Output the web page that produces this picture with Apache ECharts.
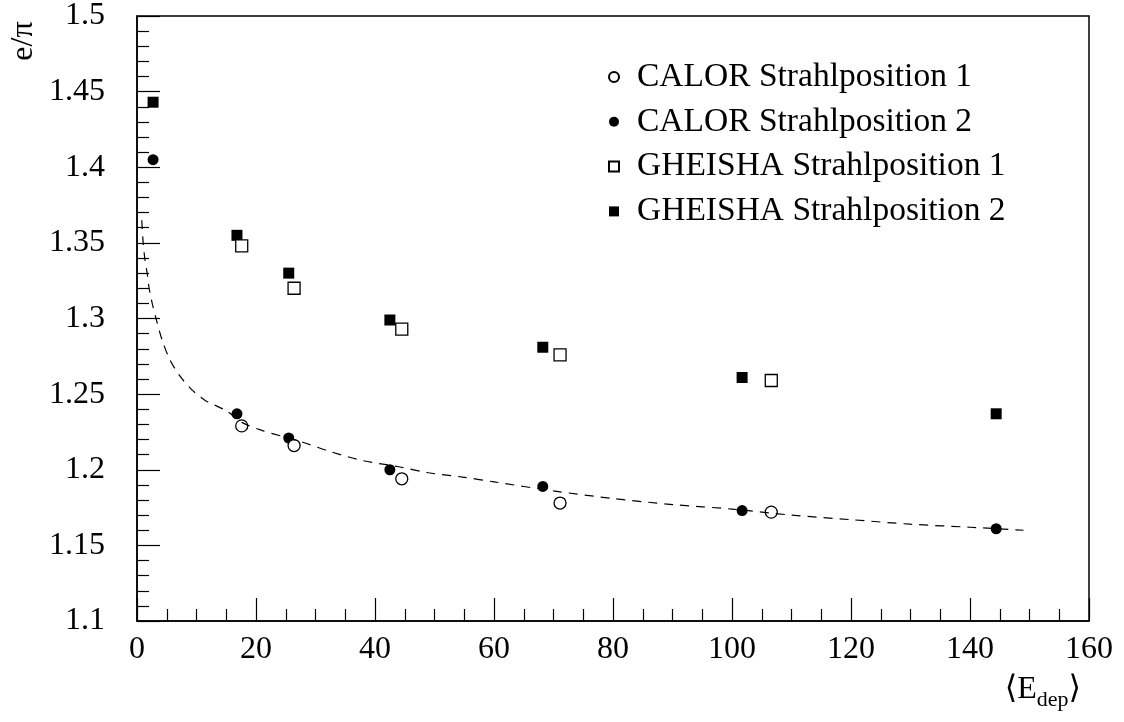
<!DOCTYPE html>
<html>
<head>
<meta charset="utf-8">
<script src="https://cdn.jsdelivr.net/npm/echarts@6/dist/echarts.min.js"></script>
<style>html,body{margin:0;padding:0;background:#fff}#c{width:1124px;height:722px}</style>
</head>
<body>
<div id="c"></div>
<script>
// ---- data ----
const calor1X = [17.6, 26.4, 44.5, 71.1, 106.6];
const calor1Y = [1.229, 1.216, 1.194, 1.178, 1.172];
const calor2X = [2.7, 16.8, 25.5, 42.5, 68.2, 101.7, 144.4];
const calor2Y = [1.405, 1.237, 1.221, 1.200, 1.189, 1.173, 1.161];
const gheisha1X = [17.6, 26.4, 44.5, 71.1, 106.6];
const gheisha1Y = [1.348, 1.320, 1.293, 1.276, 1.259];
const gheisha2X = [2.7, 16.8, 25.5, 42.5, 68.2, 101.7, 144.4];
const gheisha2Y = [1.443, 1.355, 1.330, 1.299, 1.281, 1.261, 1.237];
// dashed fit curve
const fitX = [0.8, 1.0, 1.3, 1.7, 2.0, 2.5, 3.2, 4.2, 5.5, 7.2, 9.2, 11.4, 15, 17.8, 21, 24.5, 28, 32.5, 38, 44, 49, 55, 60, 70, 80, 90, 100, 110, 120, 130, 140, 149];
const fitY = [1.365, 1.352, 1.340, 1.330, 1.321, 1.311, 1.300, 1.286, 1.273, 1.262, 1.253, 1.246, 1.239, 1.231, 1.226, 1.222, 1.218, 1.212, 1.206, 1.202, 1.198, 1.195, 1.192, 1.186, 1.181, 1.177, 1.174, 1.170, 1.167, 1.164, 1.162, 1.160];
const seriesNames = ['CALOR Strahlposition 1', 'CALOR Strahlposition 2', 'GHEISHA Strahlposition 1', 'GHEISHA Strahlposition 2'];
const xTicks = {min: 0, max: 160, interval: 20};
const yTicks = {min: 1.1, max: 1.5, interval: 0.05};

const zip = (xs, ys) => xs.map((x, i) => [x, ys[i]]);
const FONT = '"Liberation Serif", "DejaVu Serif", serif';
const FS = 32;

const chart = echarts.init(document.getElementById('c'), null, {renderer: 'canvas'});
const openStyle = {color: '#fff', borderColor: '#000', borderWidth: 1.3, opacity: 1};
const fillStyle = {color: '#000', borderColor: '#000', borderWidth: 0, opacity: 1};

chart.setOption({
  animation: false,
  backgroundColor: '#fff',
  grid: {left: 137, right: 35, top: 15, bottom: 101, show: true, borderColor: '#000', borderWidth: 1.5, backgroundColor: 'transparent'},
  xAxis: {
    type: 'value', min: xTicks.min, max: xTicks.max, interval: xTicks.interval,
    axisLine: {show: true, onZero: false, lineStyle: {color: '#000', width: 1.5}},
    axisTick: {show: true, inside: true, length: 23, lineStyle: {color: '#000', width: 1.2}},
    minorTick: {show: true, splitNumber: 4, length: 12, lineStyle: {color: '#000', width: 1.2}},
    splitLine: {show: false}, minorSplitLine: {show: false},
    axisLabel: {color: '#000', fontFamily: FONT, fontSize: FS, margin: 13}
  },
  yAxis: {
    type: 'value', min: yTicks.min, max: yTicks.max, interval: yTicks.interval,
    axisLine: {show: true, onZero: false, lineStyle: {color: '#000', width: 1.5}},
    axisTick: {show: true, inside: true, length: 23, lineStyle: {color: '#000', width: 1.2}},
    minorTick: {show: true, splitNumber: 5, length: 12, lineStyle: {color: '#000', width: 1.2}},
    splitLine: {show: false}, minorSplitLine: {show: false},
    axisLabel: {color: '#000', fontFamily: FONT, fontSize: FS, margin: 32,
      formatter: v => String(+v.toFixed(2))}
  },
  legend: {
    orient: 'vertical', left: 603, top: 55, itemGap: 10.8, itemWidth: 10, itemHeight: 10,
    data: seriesNames,
    textStyle: {color: '#000', fontFamily: FONT, fontSize: 33.5, padding: [0, 0, 0, 13]},
    selectedMode: false
  },
  graphic: [
    {type: 'text', x: 24, y: 41, rotation: Math.PI / 2,
      style: {text: 'e/π', fontFamily: FONT, fontSize: FS, fill: '#000', align: 'center', verticalAlign: 'middle'}},
    {type: 'text', x: 1081, y: 690,
      style: {text: '{a|⟨E}{b|dep}{a|⟩}', align: 'right', verticalAlign: 'middle', fill: '#000',
        rich: {
          a: {fontFamily: FONT, fontSize: FS, lineHeight: 42, verticalAlign: 'middle', fill: '#000'},
          b: {fontFamily: FONT, fontSize: 22, lineHeight: 22, verticalAlign: 'bottom', fill: '#000'}
        }}}
  ],
  series: [
    {name: seriesNames[1], type: 'scatter', symbol: 'circle', symbolSize: 11, data: zip(calor2X, calor2Y), itemStyle: fillStyle, z: 2},
    {name: seriesNames[0], type: 'scatter', symbol: 'circle', symbolSize: 12, data: zip(calor1X, calor1Y), itemStyle: openStyle, z: 3},
    {name: seriesNames[3], type: 'scatter', symbol: 'rect', symbolSize: 11, data: zip(gheisha2X, gheisha2Y), itemStyle: fillStyle, z: 2},
    {name: seriesNames[2], type: 'scatter', symbol: 'rect', symbolSize: 12, data: zip(gheisha1X, gheisha1Y), itemStyle: openStyle, z: 3},
    {name: 'fit', type: 'line', data: zip(fitX, fitY), showSymbol: false, symbol: 'none', smooth: 0.3,
      lineStyle: {color: '#000', width: 1.2, type: [9, 7]}, z: 4, silent: true}
  ]
});
</script>
</body>
</html>
